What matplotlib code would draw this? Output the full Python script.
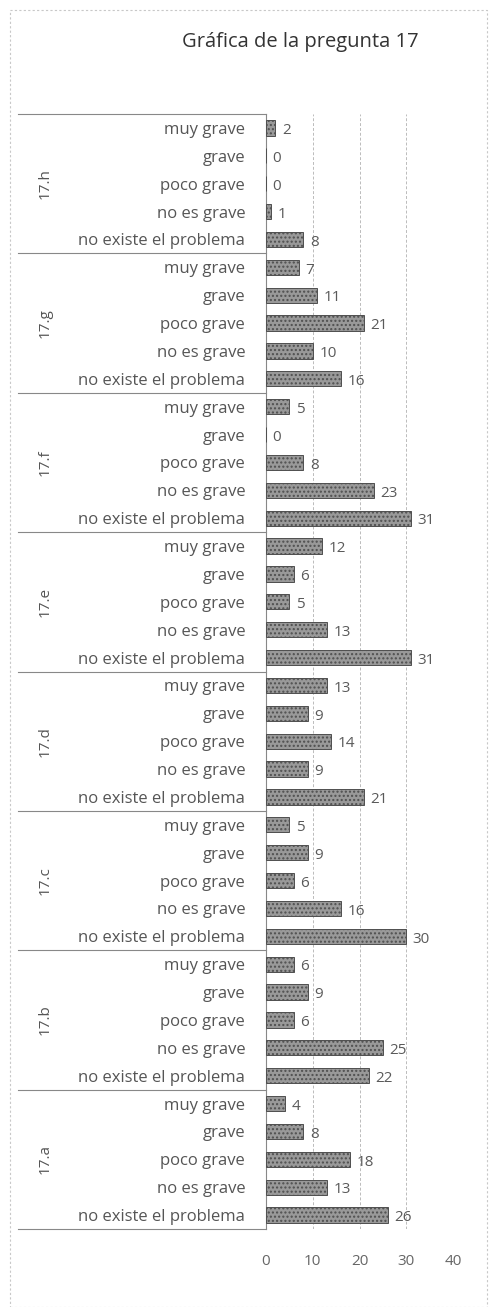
import matplotlib
matplotlib.use("Agg")
import matplotlib.pyplot as plt
from matplotlib.patches import Rectangle
import matplotlib.transforms as mtransforms

plt.rcParams['font.family'] = ['Open Sans', 'DejaVu Sans']

groups = ["17.h", "17.g", "17.f", "17.e", "17.d", "17.c", "17.b", "17.a"]
categories = ["muy grave", "grave", "poco grave", "no es grave", "no existe el problema"]
values = {
    "17.h": [2, 0, 0, 1, 8],
    "17.g": [7, 11, 21, 10, 16],
    "17.f": [5, 0, 8, 23, 31],
    "17.e": [12, 6, 5, 13, 31],
    "17.d": [13, 9, 14, 9, 21],
    "17.c": [5, 9, 6, 16, 30],
    "17.b": [6, 9, 6, 25, 22],
    "17.a": [4, 8, 18, 13, 26],
}
xticks = [0, 10, 20, 30, 40]
title = "Gráfica de la pregunta 17"

W, H = 493, 1307
fig = plt.figure(figsize=(W / 100, H / 100), dpi=100)
fig.patch.set_facecolor("white")

# outer frame
fig.add_artist(Rectangle((10 / W, 0), (487 - 10) / W, 1 - 10 / H, transform=fig.transFigure,
                         fill=False, edgecolor="#c8c8c8", linewidth=0.8, linestyle=(0, (2, 2))))
fig.text(300 / W, 1 - 42 / H, title, ha="center", va="center", fontsize=14.5, color="#333333")

left_px, right_px = 266, 453
top_px, bot_px = 114, 1229
ax = fig.add_axes([left_px / W, 1 - bot_px / H, (right_px - left_px) / W, (bot_px - top_px) / H])

labels = []
vals = []
for g in groups:
    for c, v in zip(categories, values[g]):
        labels.append(c)
        vals.append(v)
ypos = list(range(len(vals)))

ax.barh(ypos, vals, height=0.55, color="#999999", edgecolor="#4f4f4f", linewidth=0.7,
        hatch="....", zorder=3)
for y, v in zip(ypos, vals):
    ax.text(v + 1.4, y + 0.1, str(v), va="center", ha="left", fontsize=11, color="#5a5a5a", zorder=4)

ax.set_xlim(0, 40)
ax.set_ylim(len(vals) - 0.5, -0.5)
ax.set_yticks(ypos)
ax.set_yticklabels(labels, fontsize=12, color="#555555")
ax.set_xticks(xticks)
ax.set_xticklabels([str(t) for t in xticks], fontsize=11, color="#666666")
ax.tick_params(axis="y", length=0, pad=15)
ax.tick_params(axis="x", length=0, pad=18)
for s in ["top", "right", "bottom"]:
    ax.spines[s].set_visible(False)
ax.spines["left"].set_color("#888888")
ax.spines["left"].set_linewidth(0.8)
for t in xticks[1:]:
    ax.axvline(t, color="#bbbbbb", linewidth=0.7, linestyle=(0, (3, 2)), zorder=1)

trans = mtransforms.blended_transform_factory(ax.transAxes, ax.transData)
x_left = (18 - left_px) / (right_px - left_px)
for k in range(len(groups) + 1):
    yb = -0.5 + 5 * k
    ax.plot([x_left, 0], [yb, yb], transform=trans, color="#888888", linewidth=0.8, clip_on=False)
x_glab = (45 - left_px) / (right_px - left_px)
for k, g in enumerate(groups):
    ax.text(x_glab, 2 + 5 * k, g, transform=trans, rotation=90, ha="center", va="center",
            fontsize=11, color="#555555", clip_on=False)

fig.savefig("out.png", dpi=100, facecolor="white")
